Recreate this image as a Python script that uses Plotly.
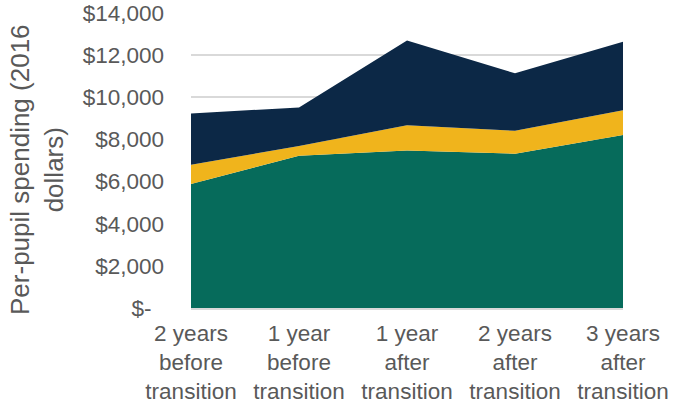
import plotly.graph_objects as go

# Transition timeline categories (multi-line labels)
categories = [
    "2 years<br>before<br>transition",
    "1 year<br>before<br>transition",
    "1 year<br>after<br>transition",
    "2 years<br>after<br>transition",
    "3 years<br>after<br>transition",
]

# Per-pupil spending components (2016 dollars), stacked bottom to top
base_spending = [5890, 7230, 7480, 7320, 8210]
supplemental_spending = [910, 460, 1190, 1090, 1170]
other_spending = [2430, 1830, 4030, 2730, 3250]

# Y axis ticks in accounting-style dollar format
y_tickvals = [0, 2000, 4000, 6000, 8000, 10000, 12000, 14000]
y_ticktext = ["$-\u00a0\u00a0", "$2,000", "$4,000", "$6,000", "$8,000",
              "$10,000", "$12,000", "$14,000"]

series = [
    ("Base", base_spending, "#066B5B"),
    ("Supplemental", supplemental_spending, "#F0B41C"),
    ("Other", other_spending, "#0C2846"),
]

fig = go.Figure()
for name, values, color in series:
    fig.add_trace(go.Scatter(
        x=categories, y=values, name=name,
        mode="lines", line=dict(width=0, color=color),
        stackgroup="one", fillcolor=color,
    ))

font_family = "Liberation Sans, Arial, sans-serif"
tick_color = "#595959"

fig.update_layout(
    width=692, height=405,
    margin=dict(l=191, r=69, t=13, b=97),
    paper_bgcolor="white", plot_bgcolor="white",
    showlegend=False,
    font=dict(family=font_family, size=22, color=tick_color),
    xaxis=dict(
        type="category", range=[0, 4], automargin=False,
        showgrid=False, zeroline=False, showline=True,
        linecolor="#D9D9D9", linewidth=1.5,
        ticks="", ticklabelstandoff=4,
        tickfont=dict(size=22.5, color=tick_color),
    ),
    yaxis=dict(
        range=[0, 14000], tickvals=y_tickvals, ticktext=y_ticktext,
        automargin=False,
        showgrid=True, gridcolor="#D9D9D9", gridwidth=1.5,
        zeroline=False, showline=False,
        ticks="", ticklabelstandoff=26,
        tickfont=dict(size=22.5, color=tick_color),
    ),
    annotations=[dict(
        text="Per-pupil spending (2016<br>dollars)",
        xref="paper", yref="paper",
        x=(37 - 191) / 432, y=(308.3 - 170) / 295.6,
        xanchor="center", yanchor="middle",
        textangle=-90, showarrow=False,
        font=dict(family=font_family, size=26, color=tick_color),
    )],
)

fig.write_html("out.html")
